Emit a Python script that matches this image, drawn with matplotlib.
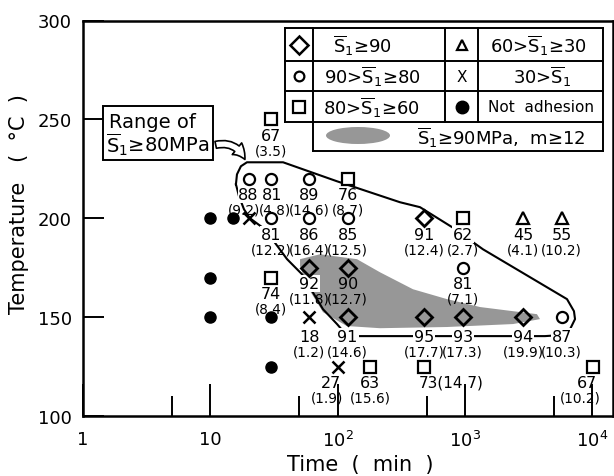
import numpy as np
import matplotlib
matplotlib.use('Agg')
import matplotlib.pyplot as plt
from matplotlib.patches import Polygon, Ellipse, FancyArrowPatch, Rectangle
from matplotlib.ticker import FixedLocator, NullFormatter
from matplotlib.lines import Line2D

# ---------------- data ----------------
# S1 >= 90 (diamond)
dia_time = [480, 60, 120, 120, 480, 960, 2880]
dia_temp = [200, 175, 175, 150, 150, 150, 150]
dia_S = ['91', '92', '90', '91', '95', '93', '94']
dia_m = ['12.4', '11.8', '12.7', '14.6', '17.7', '17.3', '19.9']

# 90 > S1 >= 80 (circle)
circ_time = [20, 30, 60, 30, 60, 120, 960, 5760]
circ_temp = [220, 220, 220, 200, 200, 200, 175, 150]
circ_S = ['88', '81', '89', '81', '86', '85', '81', '87']
circ_m = ['9.2', '4.8', '14.6', '12.2', '16.4', '12.5', '7.1', '10.3']

# 80 > S1 >= 60 (square)
sq_time = [30, 120, 960, 30, 180, 480, 10080]
sq_temp = [250, 220, 200, 170, 125, 125, 125]
sq_S = ['67', '76', '62', '74', '63', '73', '67']
sq_m = ['3.5', '8.7', '2.7', '8.4', '15.6', '14.7', '10.2']

# 60 > S1 >= 30 (triangle)
tri_time = [2880, 5760]
tri_temp = [200, 200]
tri_S = ['45', '55']
tri_m = ['4.1', '10.2']

# 30 > S1 (x)
x_time = [20, 60, 100]
x_temp = [200, 150, 125]
x_S = ['', '18', '27']
x_m = ['', '1.2', '1.9']

# not adhesion (filled circle)
na_time = [10, 15, 10, 10, 30, 30]
na_temp = [200, 200, 170, 150, 150, 125]

# boundary of the range S1 >= 80 MPa
bound_time = [15.9, 16.2, 17.4, 19.4, 37.3, 98.9, 309, 444, 793, 1387, 6340, 7190,
              7330, 6700, 5580, 4260, 132, 114, 98.9, 76.8, 52.5, 40.1, 26.9, 20.5,
              18.4, 16.8, 15.9]
bound_temp = [217.2, 222.2, 226.3, 228.3, 228.3, 218.7, 208.1, 205.6, 195.5, 184.3,
              159.1, 153.0, 149.0, 143.9, 140.9, 140.4, 140.4, 141.9, 146.5, 154.0,
              171.7, 179.3, 194.4, 200.0, 204.5, 211.1, 217.2]

# region S1 >= 90 MPa, m >= 12 (shaded)
shade_time = [50.7, 72.8, 142, 215, 391, 723, 1315, 2390, 3680, 3890, 2390, 723, 215,
              118, 76.8, 57.5, 50.7]
shade_temp = [179.3, 181.8, 179.3, 172.7, 164.1, 159.1, 155.1, 153.0, 151.5, 149.0,
              146.5, 145.0, 144.4, 145.5, 152.5, 165.7, 175.8]

xtick_vals = [1, 10, 100, 1000, 10000]
xtick_labels = ['1', '10', r'$\mathregular{10^2}$', r'$\mathregular{10^3}$', r'$\mathregular{10^4}$']
ytick_vals = [100, 150, 200, 250, 300]

# ---------------- layout helpers (pixels of the 614x477 figure) ----------------
W, H = 614, 477
AX_L, AX_R, AX_T, AX_B = 83, 613, 21.5, 417


def afx(px):
    return (px - AX_L) / (AX_R - AX_L)


def afy(py):
    return (AX_B - py) / (AX_B - AX_T)


plt.rcParams['font.family'] = ['DejaVu Sans']
plt.rcParams['mathtext.fontset'] = 'dejavusans'
LABEL_FONT = ['Liberation Sans Narrow', 'DejaVu Sans']

fig = plt.figure(figsize=(W / 100, H / 100), dpi=100)
ax = fig.add_axes([AX_L / W, (H - AX_B) / H, (AX_R - AX_L) / W, (AX_B - AX_T) / H])
ax.set_xscale('log')
ax.set_xlim(1, 10 ** ((AX_R - AX_L) / 127.3))
ax.set_ylim(100, 300)

for s in ax.spines.values():
    s.set_linewidth(1.8)

ax.xaxis.set_major_locator(FixedLocator(xtick_vals))
ax.set_xticklabels(xtick_labels)
ax.xaxis.set_minor_locator(FixedLocator([5, 50, 500, 5000]))
ax.xaxis.set_minor_formatter(NullFormatter())
ax.set_yticks(ytick_vals)
ax.set_yticklabels([str(v) for v in ytick_vals])
ax.tick_params(axis='x', which='major', direction='in', length=23, width=1.4,
               labelsize=13, pad=10)
ax.tick_params(axis='x', which='minor', direction='in', length=14.5, width=1.4)
ax.tick_params(axis='y', which='major', direction='in', length=15, width=1.4,
               labelsize=13, pad=8)
ax.tick_params(axis='y', which='minor', left=False)

ax.set_xlabel('Time  (  min  )', fontsize=15)
ax.xaxis.set_label_coords(afx(360), afy(455))
ax.set_ylabel('Temperature   (  °C  )', fontsize=15)
ax.yaxis.set_label_coords(afx(29), afy(204))

# shaded region and boundary
ax.add_patch(Polygon(np.column_stack([shade_time, shade_temp]), closed=True,
                     facecolor='#979797', edgecolor='none', zorder=2))
ax.plot(bound_time, bound_temp, color='black', lw=1.5, zorder=2.5)

# markers
mk = dict(ls='none', zorder=6)
ax.plot(dia_time, dia_temp, marker='D', ms=8, mfc='none', mec='black', mew=2.0, **mk)
ax.plot(circ_time, circ_temp, marker='o', ms=8, mfc='white', mec='black', mew=1.6, **mk)
ax.plot(sq_time, sq_temp, marker='s', ms=8.5, mfc='white', mec='black', mew=1.6, **mk)
ax.plot(tri_time, tri_temp, marker='^', ms=8, mfc='white', mec='black', mew=1.6, **mk)
ax.plot(x_time, x_temp, marker='x', ms=8, mec='black', mew=1.8, **mk)
ax.plot(na_time, na_temp, marker='o', ms=8, mfc='black', mec='black', **mk)

# labels
masked = {(20, 220), (30, 200), (60, 175), (120, 150), (480, 150), (960, 150),
          (2880, 150), (5760, 150), (960, 200)}
special_dx = {(100, 125): (-7, -11), (10080, 125): (-6, -12),
              (20, 220): (0, -5), (30, 220): (1, 4)}


def label_points(times, temps, svals, mvals):
    for t, T, s, m in zip(times, temps, svals, mvals):
        if not s:
            continue
        key = (t, T)
        dy1, dy2 = (-19, -34) if T == 150 else (-16, -31)
        dx1, dx2 = special_dx.get(key, (0, 0))
        bb = dict(boxstyle='square,pad=0.05', fc='white', ec='none') if key in masked else None
        z = 4 if key in masked else 5
        if key == (480, 125):
            ax.annotate(f'{s}({m})', (t, T), xytext=(-6 * 0.72, -15 * 0.72),
                        textcoords='offset points', ha='left', va='center',
                        fontsize=11, family=LABEL_FONT, zorder=z)
            continue
        ax.annotate(s, (t, T), xytext=(dx1 * 0.72, dy1 * 0.72), textcoords='offset points',
                    ha='center', va='center', fontsize=11.5, family=LABEL_FONT,
                    bbox=bb, zorder=z)
        ax.annotate(f'({m})', (t, T), xytext=(dx2 * 0.72, dy2 * 0.72), textcoords='offset points',
                    ha='center', va='center', fontsize=9.8, family=LABEL_FONT, zorder=5)


label_points(dia_time, dia_temp, dia_S, dia_m)
label_points(circ_time, circ_temp, circ_S, circ_m)
label_points(sq_time, sq_temp, sq_S, sq_m)
label_points(tri_time, tri_temp, tri_S, tri_m)
label_points(x_time, x_temp, x_S, x_m)

# ---------------- legend table ----------------
T = ax.transAxes
lw = 1.4


def hline(px0, px1, py):
    ax.add_line(Line2D([afx(px0), afx(px1)], [afy(py), afy(py)], transform=T,
                       color='black', lw=lw, zorder=7))


def vline(px, py0, py1):
    ax.add_line(Line2D([afx(px), afx(px)], [afy(py0), afy(py1)], transform=T,
                       color='black', lw=lw, zorder=7))


ax.add_patch(Rectangle((afx(285), afy(152)), afx(603) - afx(285), afy(29) - afy(152),
                       transform=T, fc='white', ec='none', zorder=6.5))
hline(285, 603, 29)
hline(285, 603, 62)
hline(285, 603, 92)
hline(285, 603, 123)
hline(313, 603, 152)
vline(285, 29, 123)
vline(313, 29, 152)
vline(603, 29, 152)
vline(445, 29, 123)
vline(478, 29, 123)

S1 = r'$\overline{\mathrm{S}}_1$'
rows_y = [45.5, 77, 107.5]
ax.plot(afx(299), afy(rows_y[0]), marker='D', ms=9, mfc='white', mec='black', mew=1.8,
        transform=T, zorder=8)
ax.plot(afx(299), afy(rows_y[1]), marker='o', ms=7, mfc='white', mec='black', mew=1.6,
        transform=T, zorder=8)
ax.plot(afx(299), afy(rows_y[2]), marker='s', ms=8, mfc='white', mec='black', mew=1.6,
        transform=T, zorder=8)
ax.plot(afx(462), afy(rows_y[0]), marker='^', ms=7, mfc='white', mec='black', mew=1.6,
        transform=T, zorder=8)
ax.text(afx(462), afy(rows_y[1]), 'X', transform=T, ha='center', va='center',
        fontsize=11, zorder=8)
ax.plot(afx(462), afy(rows_y[2]), marker='o', ms=9, mfc='black', mec='black',
        transform=T, zorder=8)

legend_txt = [
    (362, rows_y[0], S1 + '≥90', 13),
    (372, rows_y[1], '90>' + S1 + '≥80', 13),
    (371, rows_y[2], '80>' + S1 + '≥60', 13),
    (538, rows_y[0], '60>' + S1 + '≥30', 13),
    (542, rows_y[1], '30>' + S1, 13),
    (541, rows_y[2], 'Not  adhesion', 11),
    (501, 137.5, S1 + '≥90MPa,  m≥12', 13),
]
for px, py, s, fs in legend_txt:
    ax.text(afx(px), afy(py), s, transform=T, ha='center', va='center', fontsize=fs,
            zorder=8)

ax.add_patch(Ellipse((afx(358), afy(136.5)), afx(390) - afx(326), afy(128) - afy(145),
                     transform=T, fc='#979797', ec='none', zorder=8))

# ---------------- range annotation box ----------------
ax.add_patch(Rectangle((afx(103), afy(161)), afx(213) - afx(103), afy(107) - afy(161),
                       transform=T, fc='white', ec='black', lw=1.4, zorder=7))
ax.text(afx(109), afy(122), 'Range of', transform=T, ha='left', va='center',
        fontsize=14, zorder=8)
ax.text(afx(106), afy(145), S1 + '≥80MPa', transform=T, ha='left', va='center',
        fontsize=14, zorder=8)
arrow = FancyArrowPatch((afx(213), afy(146.5)), (afx(246), afy(163)), transform=T,
                        arrowstyle='simple,head_width=0.9,head_length=0.8,tail_width=0.42',
                        mutation_scale=12, connectionstyle='arc3,rad=-0.45',
                        fc='white', ec='black', lw=1.2, zorder=7.5)
ax.add_patch(arrow)

fig.savefig('out.png', dpi=100)
